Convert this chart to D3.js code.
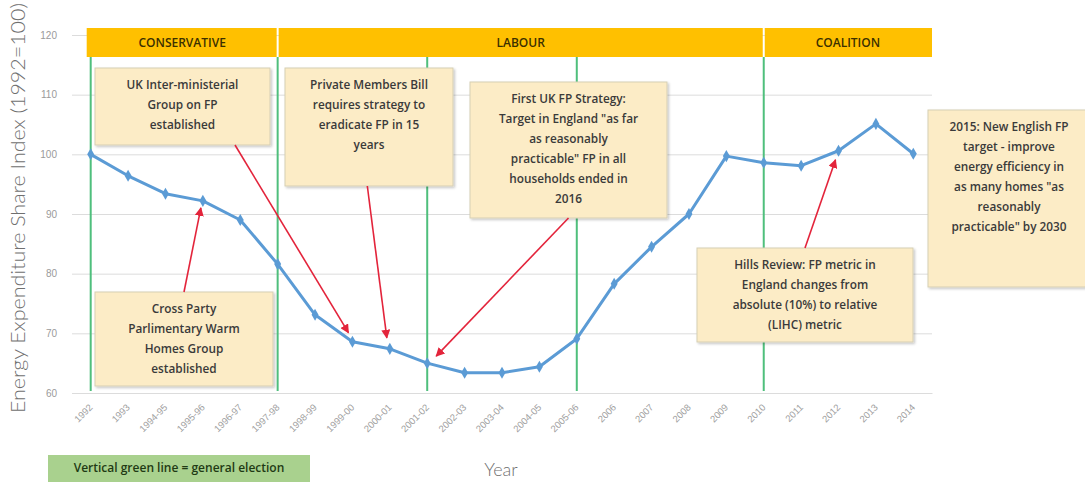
<!DOCTYPE html>
<html>
<head>
<meta charset="utf-8">
<script src="https://cdn.jsdelivr.net/npm/d3@7"></script>
<style>
  html, body { margin: 0; padding: 0; background: #fff; }
  svg { display: block; }
</style>
</head>
<body>
<svg id="chart" width="1085" height="482"></svg>
<script>
// Fiscal / calendar years on the x axis
const years = ["1992","1993","1994-95","1995-96","1996-97","1997-98","1998-99","1999-00",
  "2000-01","2001-02","2002-03","2003-04","2004-05","2005-06","2006","2007","2008",
  "2009","2010","2011","2012","2013","2014"];

// Energy expenditure share index (1992 = 100)
const indexValues = [100, 96.4, 93.4, 92.2, 89, 81.6, 73.1, 68.6, 67.4, 65.0, 63.4, 63.4,
  64.4, 69.1, 78.3, 84.5, 90.0, 99.7, 98.6, 98.1, 100.6, 105.1, 100.1];

const yTicks = [60, 70, 80, 90, 100, 110, 120];

// Years with a general election (vertical green lines)
const elections = ["1992", "1997-98", "2001-02", "2005-06", "2010"];

// Governing party periods
const parties = ["CONSERVATIVE", "LABOUR", "COALITION"];
const partyStarts = ["1992", "1997-98", "2010"];

// Policy milestones: text, and the year each arrow points to
const noteTexts = [
  ["UK Inter-ministerial", "Group on FP", "established"],
  ["Private Members Bill", "requires strategy to", "eradicate FP in 15", "years"],
  ["First UK FP Strategy:", "Target in England \"as far", "as reasonably", "practicable\" FP in all", "households ended in", "2016"],
  ["Cross Party", "Parlimentary Warm", "Homes Group", "established"],
  ["Hills Review: FP metric in", "England changes from", "absolute (10%) to relative", "(LIHC) metric"],
  ["2015: New English FP", "target - improve", "energy efficiency in", "as many homes \"as", "reasonably", "practicable\" by 2030"]
];
const noteTargets = ["1999-00", "2000-01", "2001-02", "1995-96", "2012", null];

// Box placement and arrow geometry for the notes
const noteLayout = [
  { x: 95,  y: 68,  w: 175, h: 77,  side: "bottom", at: 0.80, dx: -4, dy: -9 },
  { x: 285, y: 68,  w: 168, h: 118, side: "bottom", at: 0.49, dx: -3, dy: -11 },
  { x: 470, y: 82,  w: 197, h: 136, side: "bottom", at: 0.50, dx: 9,  dy: -7 },
  { x: 95,  y: 292, w: 178, h: 94,  side: "top",    at: 0.50, dx: -2, dy: 7 },
  { x: 697, y: 248, w: 216, h: 94,  side: "top",    at: 0.50, dx: -3, dy: 9 },
  { x: 928, y: 110, w: 162, h: 177, side: null }
];

const svg = d3.select("#chart");
const plot = { left: 72, right: 932, top: 35, bottom: 393 };

const x = d3.scalePoint().domain(years).range([plot.left, plot.right]).padding(0.5);
const y = d3.scaleLinear().domain([60, 120]).range([plot.bottom, plot.top]);

const defs = svg.append("defs");
defs.append("marker")
  .attr("id", "arrowhead")
  .attr("viewBox", "0 0 10 10")
  .attr("refX", 9).attr("refY", 5)
  .attr("markerUnits", "userSpaceOnUse")
  .attr("markerWidth", 9).attr("markerHeight", 9)
  .attr("orient", "auto")
  .append("path").attr("d", "M0,0 L10,5 L0,10 Z").attr("fill", "#e3243b");

const shadow = defs.append("filter").attr("id", "boxShadow")
  .attr("x", "-10%").attr("y", "-10%").attr("width", "130%").attr("height", "130%");
shadow.append("feDropShadow").attr("dx", 1.5).attr("dy", 1.5).attr("stdDeviation", 1.2)
  .attr("flood-color", "#000").attr("flood-opacity", 0.22);

// Horizontal gridlines
const yAxis = d3.axisLeft(y).tickValues(yTicks).tickSize(-(plot.right - plot.left)).tickPadding(15);
const gy = svg.append("g").attr("transform", `translate(${plot.left},0)`).call(yAxis);
gy.select(".domain").remove();
gy.selectAll(".tick line").attr("stroke", "#dcdcdc").attr("stroke-width", 1);
gy.selectAll(".tick text")
  .attr("fill", "#9a9a9a").attr("font-size", 10)
  .attr("font-family", "'Liberation Sans', Arial, sans-serif");

// X axis with slanted year labels
const xAxis = d3.axisBottom(x).tickSize(0).tickPadding(0);
const gx = svg.append("g").attr("transform", `translate(0,${plot.bottom})`).call(xAxis);
gx.select(".domain").attr("stroke", "#dcdcdc");
gx.selectAll(".tick text")
  .attr("fill", "#a0a0a0").attr("font-size", 9.5)
  .attr("font-family", "'Liberation Sans', Arial, sans-serif")
  .attr("text-anchor", "end")
  .attr("dy", null).attr("y", 0)
  .attr("transform", "translate(2,15) rotate(-45)");

// Party bands across the top
const bandTop = 28, bandBottom = 57;
const bandEdges = partyStarts.map((p, i) => i === 0 ? x(p) - 4 : x(p));
bandEdges.push(plot.right);
const bandG = svg.append("g");
parties.forEach((name, i) => {
  const x0 = bandEdges[i] + (i === 0 ? 0 : 1);
  const x1 = bandEdges[i + 1] - (i === parties.length - 1 ? 0 : 1);
  bandG.append("rect")
    .attr("x", x0).attr("y", bandTop).attr("width", x1 - x0).attr("height", bandBottom - bandTop)
    .attr("fill", "#ffc000");
  bandG.append("text")
    .attr("x", (bandEdges[i] + bandEdges[i + 1]) / 2).attr("y", (bandTop + bandBottom) / 2 + 1)
    .attr("text-anchor", "middle").attr("dominant-baseline", "middle")
    .attr("font-family", "'Open Sans', sans-serif").attr("font-size", 12).attr("font-weight", 600)
    .attr("fill", "#3b3000")
    .text(name);
});

// Election lines
svg.append("g").selectAll("line").data(elections).join("line")
  .attr("x1", d => x(d)).attr("x2", d => x(d))
  .attr("y1", bandBottom).attr("y2", plot.bottom - 2)
  .attr("stroke", "#4fbf7c").attr("stroke-width", 2);

// Index line and markers
const series = years.map((yr, i) => ({ yr, v: indexValues[i] }));
svg.append("path").datum(series)
  .attr("fill", "none").attr("stroke", "#5b9bd5").attr("stroke-width", 3)
  .attr("stroke-linejoin", "round")
  .attr("d", d3.line().x(d => x(d.yr)).y(d => y(d.v)));
svg.append("g").selectAll("path").data(series).join("path")
  .attr("transform", d => `translate(${x(d.yr)},${y(d.v)})`)
  .attr("d", d3.symbol().type(d3.symbolDiamond).size(42))
  .attr("fill", "#5b9bd5");

// Notes: boxes with text and arrows to the data
const valueOf = yr => indexValues[years.indexOf(yr)];
const notesG = svg.append("g");
noteTexts.forEach((lines, i) => {
  const L = noteLayout[i];
  const g = notesG.append("g");
  g.append("rect")
    .attr("x", L.x).attr("y", L.y).attr("width", L.w).attr("height", L.h)
    .attr("fill", "#fcecc6").attr("stroke", "#d6cfb4").attr("stroke-width", 1)
    .attr("filter", "url(#boxShadow)");
  g.selectAll("text").data(lines).join("text")
    .attr("x", L.x + L.w / 2)
    .attr("y", (d, j) => L.y + 18 + j * 20)
    .attr("text-anchor", "middle").attr("dominant-baseline", "middle")
    .attr("font-family", "'Open Sans', sans-serif").attr("font-size", 11.8).attr("font-weight", 600)
    .attr("fill", "#3a3a3a")
    .text(d => d);
  const target = noteTargets[i];
  if (target) {
    const sx = L.x + L.w * L.at;
    const sy = L.side === "bottom" ? L.y + L.h : L.y;
    const tx = x(target) + L.dx;
    const ty = y(valueOf(target)) + L.dy;
    notesG.append("line")
      .attr("x1", sx).attr("y1", sy).attr("x2", tx).attr("y2", ty)
      .attr("stroke", "#e3243b").attr("stroke-width", 1.6)
      .attr("marker-end", "url(#arrowhead)");
  }
});

// Axis titles
svg.append("text")
  .attr("transform", `translate(25,208) rotate(-90)`)
  .attr("text-anchor", "middle")
  .attr("font-family", "Lato, 'Open Sans', sans-serif").attr("font-weight", 300)
  .attr("font-size", 20).attr("fill", "#6f6f6f")
  .attr("textLength", 410).attr("lengthAdjust", "spacingAndGlyphs")
  .text("Energy Expenditure Share Index (1992=100)");

svg.append("text")
  .attr("x", 501).attr("y", 476)
  .attr("text-anchor", "middle")
  .attr("font-family", "Lato, 'Open Sans', sans-serif").attr("font-weight", 300)
  .attr("font-size", 18).attr("fill", "#6f6f6f")
  .text("Year");

// Legend note
const legend = svg.append("g");
legend.append("rect")
  .attr("x", 48).attr("y", 455).attr("width", 262).attr("height", 27)
  .attr("fill", "#a9d18e");
legend.append("text")
  .attr("x", 179).attr("y", 469)
  .attr("text-anchor", "middle").attr("dominant-baseline", "middle")
  .attr("font-family", "'Open Sans', sans-serif").attr("font-size", 12).attr("font-weight", 600)
  .attr("fill", "#1f3a14")
  .text("Vertical green line = general election");
</script>
</body>
</html>
